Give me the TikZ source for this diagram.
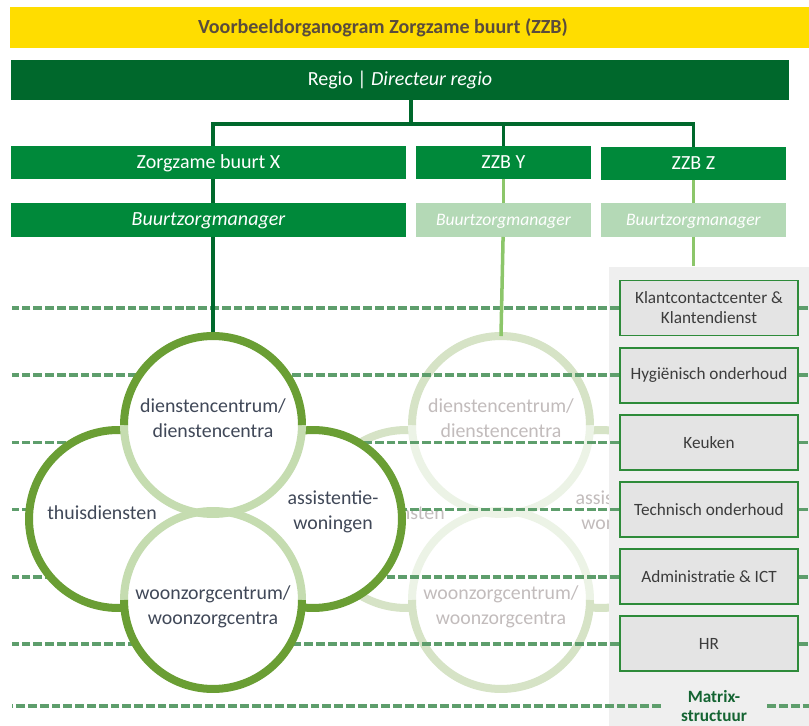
\documentclass[tikz,border=0pt]{standalone}
\usepackage{fontspec}
\setmainfont{Carlito}
\usetikzlibrary{positioning,calc}

\definecolor{zzbyellow}{RGB}{255,221,0}
\definecolor{titlegrey}{RGB}{90,76,60}
\definecolor{regiogreen}{RGB}{0,104,44}
\definecolor{zzbgreen}{RGB}{0,137,58}
\definecolor{palegreen}{RGB}{180,217,182}
\definecolor{ringdark}{RGB}{106,158,52}
\definecolor{ringlight}{RGB}{197,220,176}
\definecolor{fadedark}{RGB}{214,227,198}
\definecolor{fadelight}{RGB}{236,243,230}
\definecolor{fadetext}{RGB}{194,188,188}
\definecolor{linkpale}{RGB}{140,198,106}
\definecolor{dashgreen}{RGB}{94,158,108}
\definecolor{panelgrey}{RGB}{239,239,239}
\definecolor{boxgrey}{RGB}{228,228,228}
\definecolor{boxline}{RGB}{46,139,58}
\definecolor{boxtext}{RGB}{60,60,60}
\definecolor{circtext}{RGB}{64,72,88}
\definecolor{matrixgreen}{RGB}{20,100,50}

\newcommand{\zzbfont}{\fontsize{11.4pt}{13pt}\selectfont}
\newcommand{\fadefont}{\fontsize{10pt}{12pt}\selectfont}
\newcommand{\ringfont}{\fontsize{11.3pt}{14.2pt}\selectfont}
\newcommand{\mboxfont}{\fontsize{9.8pt}{11.3pt}\selectfont}

\begin{document}
\begin{tikzpicture}[x=0.02cm,y=-0.02cm,>=latex,thick,
  bar/.style={rectangle, inner sep=0pt, outer sep=0pt, text=white, font=\zzbfont, text height=0.644em, text depth=0pt},
  ring/.style={circle, fill=white, line width=0.16cm, minimum size=3.56cm, inner sep=0pt, outer sep=0pt},
  ringtext/.style={align=center, text=circtext, font=\ringfont},
  fadetxt/.style={align=center, text=fadetext, font=\ringfont},
  arcdark/.style={draw=ringdark, line width=0.16cm},
  arclight/.style={draw=ringlight, line width=0.16cm},
  fadearcdark/.style={draw=fadedark, line width=0.16cm},
  fadearclight/.style={draw=fadelight, line width=0.16cm},
  mbox/.style={rectangle, draw=boxline, line width=1.1pt, fill=boxgrey, minimum width=3.56cm, minimum height=1.1cm, align=center, text=boxtext, font=\mboxfont},
  dashline/.style={draw=dashgreen, line width=2pt, dash pattern=on 5pt off 1.7pt},
  tree/.style={draw=regiogreen, line width=2pt},
  treepale/.style={draw=linkpale, line width=2pt}]
  \useasboundingbox (0,0) rectangle (809,726);

  % header bars
  \node[bar, fill=zzbyellow, minimum width=15.98cm, minimum height=0.82cm] (titlebar) at (409.5,27.5) {};
  \node[text=titlegrey, font=\zzbfont\bfseries, text height=0.644em, text depth=0pt] (title) at (383,28) {Voorbeeldorganogram Zorgzame buurt (ZZB)};
  \node[bar, fill=regiogreen, minimum width=15.56cm, minimum height=0.8cm] (regio) at (400,80) {Regio | \textit{Directeur regio}};

  \node[bar, fill=zzbgreen, minimum width=7.9cm, minimum height=0.66cm] (zzbx) at (208.5,162.5) {Zorgzame buurt X};
  \node[bar, fill=zzbgreen, minimum width=3.5cm, minimum height=0.66cm, right=0.2cm of zzbx] (zzby) {ZZB Y};
  \node[bar, fill=zzbgreen, minimum width=3.7cm, minimum height=0.66cm, right=0.2cm of zzby, yshift=-0.02cm] (zzbz) {ZZB Z};

  \node[bar, fill=zzbgreen, minimum width=7.9cm, minimum height=0.68cm, below=0.48cm of zzbx] (bzx) {\itshape Buurtzorgmanager};
  \node[bar, fill=palegreen, minimum width=3.5cm, minimum height=0.68cm, below=0.48cm of zzby, font=\fadefont] (bzy) {\itshape Buurtzorgmanager};
  \node[bar, fill=palegreen, minimum width=3.7cm, minimum height=0.68cm, font=\fadefont] (bzz) at (bzy -| zzbz) {\itshape Buurtzorgmanager};

  \coordinate (split) at (411,124);
  \coordinate (xcol) at (213,0);
  \coordinate (lft) at (12,0);
  \coordinate (rgt) at (809,0);
  \draw[tree] (split |- regio.south) -- (split);
  \draw[tree] (split) -| (zzbx.north -| xcol);
  \draw[tree] (split) -| (zzbz.north);
  \draw[tree] (split -| zzby.north) -- (zzby.north);
  \draw[tree] (zzbx.south -| xcol) -- (bzx.north -| xcol);
  \draw[treepale] (zzby) -- (bzy);
  \draw[treepale] (zzbz) -- (bzz);

  % ZZB Y, faded
  \begin{scope}[shift={(288,0)}]
    \node[ring, draw=fadedark] (fthuis) at (118,519) {};
    \node[ring, draw=fadedark] (fassist) at (313,519) {};
    \node[ring] (fdienst) at (213,425) {};
    \node[ring] (fwoon) at (213,600) {};
    \draw[fadearclight] (fdienst.west) arc[start angle=180, end angle=360, radius=1.78cm];
    \draw[fadearcdark] (fdienst.east) arc[start angle=0, end angle=180, radius=1.78cm];
    \draw[fadearclight] (fwoon.east) arc[start angle=0, end angle=180, radius=1.78cm];
    \draw[fadearcdark] (fwoon.west) arc[start angle=180, end angle=360, radius=1.78cm];
    \node[fadetxt] at ($(fthuis)+(-16,-6)$) {thuisdiensten};
    \node[fadetxt] at ($(fassist)+(20,-7)$) {assistentie-\\woningen};
    \node[fadetxt] at ($(fdienst)+(0,-7)$) {dienstencentrum/\\dienstencentra};
    \node[fadetxt] at ($(fwoon)+(0,7)$) {woonzorgcentrum/\\woonzorgcentra};
  \end{scope}

  % matrix
  \node[rectangle, fill=panelgrey, minimum width=4cm, minimum height=9.18cm, inner sep=0pt] (panel) at (709,496.5) {};
  \node[mbox] (kcc) at (709,308) {Klantcontactcenter \&\\Klantendienst};
  \node[mbox, below of=kcc, node distance=1.344cm] (hyg) {Hygiënisch onderhoud};
  \node[mbox, below of=hyg, node distance=1.344cm] (keu) {Keuken};
  \node[mbox, below of=keu, node distance=1.344cm] (tech) {Technisch onderhoud};
  \node[mbox, below of=tech, node distance=1.344cm] (adm) {Administratie \& ICT};
  \node[mbox, below of=adm, node distance=1.344cm] (hr) {HR};
  \node[align=center, text=matrixgreen, font=\mboxfont\bfseries, minimum width=2.1cm, inner sep=0pt] (mx) at (714,706) {Matrix-\\structuur};
  \draw[treepale] (bzz) -- (bzz.south |- panel.north);

  \draw[dashline] (kcc.west) -- (kcc.west -| lft);
  \draw[dashline] (kcc.east) -- (kcc.east -| rgt);
  \draw[dashline] (hyg.west) -- (hyg.west -| lft);
  \draw[dashline] (hyg.east) -- (hyg.east -| rgt);
  \draw[dashline] (keu.west) -- (keu.west -| lft);
  \draw[dashline] (keu.east) -- (keu.east -| rgt);
  \draw[dashline] (tech.west) -- (tech.west -| lft);
  \draw[dashline] (tech.east) -- (tech.east -| rgt);
  \draw[dashline] (adm.west) -- (adm.west -| lft);
  \draw[dashline] (adm.east) -- (adm.east -| rgt);
  \draw[dashline] (hr.west) -- (hr.west -| lft);
  \draw[dashline] (hr.east) -- (hr.east -| rgt);
  \draw[dashline] (mx.west) -- (mx.west -| lft);
  \draw[dashline] (mx.east) -- (mx.east -| rgt);

  % ZZB X
  \node[ring, draw=ringdark] (thuis) at (118,519) {};
  \node[ring, draw=ringdark] (assist) at (313,519) {};
  \node[ring] (dienst) at (213,425) {};
  \node[ring] (woon) at (213,600) {};
  \draw[tree] (bzx.south -| xcol) -- (dienst.north);
  \draw[treepale] (bzy) -- (fdienst.north);
  \draw[arclight] (dienst.west) arc[start angle=180, end angle=360, radius=1.78cm];
  \draw[arcdark] (dienst.east) arc[start angle=0, end angle=180, radius=1.78cm];
  \draw[arclight] (woon.east) arc[start angle=0, end angle=180, radius=1.78cm];
  \draw[arcdark] (woon.west) arc[start angle=180, end angle=360, radius=1.78cm];
  \node[ringtext] (thuistxt) at ($(thuis)+(-16,-6)$) {thuisdiensten};
  \node[ringtext] (assisttxt) at ($(assist)+(20,-7)$) {assistentie-\\woningen};
  \node[ringtext] (diensttxt) at ($(dienst)+(0,-7)$) {dienstencentrum/\\dienstencentra};
  \node[ringtext] (woontxt) at ($(woon)+(0,7)$) {woonzorgcentrum/\\woonzorgcentra};
\end{tikzpicture}
\end{document}
